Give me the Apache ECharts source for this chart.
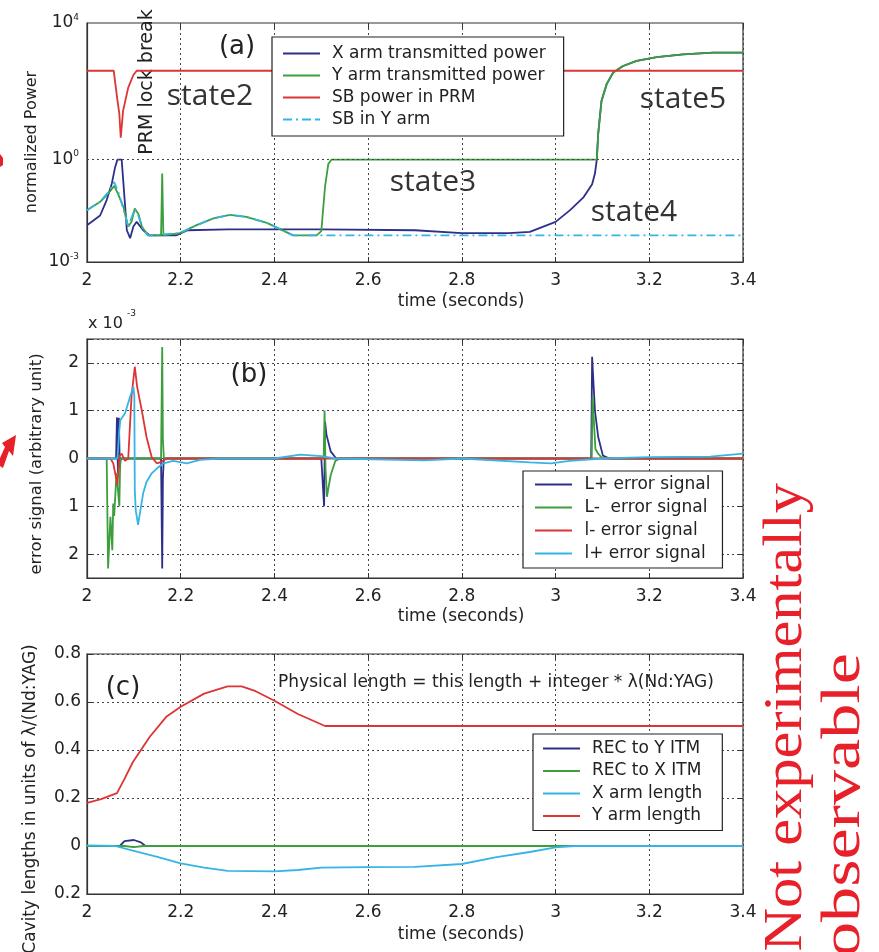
<!DOCTYPE html>
<html>
<head>
<meta charset="utf-8">
<script src="https://cdn.jsdelivr.net/npm/echarts@6/dist/echarts.min.js"></script>
<style>
html,body{margin:0;padding:0;background:#fff;}
#c{width:879px;height:952px;}
</style>
</head>
<body>
<div id="c"></div>
<script>
// ---------- Panel (a): normalized power (log scale) ----------
const xArmT = [2.0, 2.028, 2.042, 2.053, 2.06, 2.065, 2.074, 2.081, 2.085, 2.092, 2.099, 2.106, 2.12, 2.134, 2.19, 2.215, 2.3, 2.5, 2.7, 2.8, 2.9, 2.945, 3.0, 3.031, 3.06, 3.078, 3.084, 3.088, 3.091, 3.098, 3.109, 3.123, 3.144, 3.173, 3.216, 3.272, 3.336, 3.4];
const xArmP = [0.012, 0.023, 0.065, 0.2, 0.6, 1.0, 1.0, 0.05, 0.0085, 0.005, 0.011, 0.015, 0.0085, 0.006, 0.006, 0.0085, 0.009, 0.009, 0.0085, 0.007, 0.007, 0.0076, 0.015, 0.033, 0.08, 0.19, 0.39, 1.0, 5.8, 52, 162, 355, 550, 780, 1000, 1200, 1350, 1350];

const yArmT = [2.0, 2.028, 2.045, 2.058, 2.066, 2.078, 2.088, 2.095, 2.102, 2.11, 2.117, 2.13, 2.158, 2.1605, 2.163, 2.198, 2.234, 2.27, 2.305, 2.34, 2.384, 2.44, 2.49, 2.5, 2.508, 2.515, 2.522, 3.088, 3.091, 3.098, 3.109, 3.123, 3.144, 3.173, 3.216, 3.272, 3.336, 3.4];
const yArmP = [0.033, 0.058, 0.1, 0.17, 0.1, 0.04, 0.011, 0.015, 0.037, 0.025, 0.011, 0.006, 0.006, 0.39, 0.006, 0.007, 0.012, 0.019, 0.024, 0.021, 0.014, 0.006, 0.006, 0.008, 0.16, 0.75, 1.0, 1.0, 5.8, 52, 162, 355, 550, 780, 1000, 1200, 1350, 1350];

const sbPrmT = [2.0, 2.057, 2.065, 2.069, 2.072, 2.077, 2.088, 2.099, 2.106, 3.4];
const sbPrmP = [400, 400, 53, 22, 4.4, 27, 128, 300, 400, 400];

const sbYT = [2.0, 2.028, 2.045, 2.058, 2.066, 2.078, 2.088, 2.095, 2.102, 2.11, 2.117, 2.13, 2.198, 2.234, 2.27, 2.305, 2.34, 2.384, 2.44, 2.49, 3.4];
const sbYP = [0.033, 0.058, 0.11, 0.22, 0.12, 0.035, 0.01, 0.02, 0.035, 0.022, 0.011, 0.006, 0.007, 0.012, 0.019, 0.024, 0.021, 0.014, 0.006, 0.006, 0.006];

// ---------- Panel (b): error signals (x 10^-3) ----------
const lPlusT = [2.0, 2.062, 2.064, 2.066, 2.068, 2.07, 2.072, 2.158, 2.1605, 2.162, 2.164, 2.5, 2.506, 2.508, 2.511, 2.52, 2.532, 3.076, 3.078, 3.084, 3.091, 3.101, 3.115, 3.4];
const lPlusV = [0, 0, 0.86, -0.3, 0.85, -0.2, 0, 0, -2.3, -0.4, 0, 0, -1.0, 0.77, 0.5, 0.15, 0, 0, 2.13, 1.0, 0.45, 0.06, 0, 0];

const lMinusT = [2.0, 2.042, 2.045, 2.05, 2.054, 2.056, 2.058, 2.063, 2.069, 2.071, 2.158, 2.1605, 2.162, 2.164, 2.505, 2.507, 2.509, 2.512, 2.52, 2.53, 2.54, 3.077, 3.079, 3.085, 3.091, 3.1, 3.4];
const lMinusV = [0, 0, -2.3, -1.22, -1.92, -0.94, -1.2, -0.3, -1.0, 0, 0, 2.33, 0.4, 0, 0, 1.0, -0.2, -0.8, -0.35, -0.05, 0, 0, 1.29, 0.2, 0.1, 0, 0];

const sMinusT = [2.0, 2.05, 2.056, 2.065, 2.069, 2.074, 2.081, 2.088, 2.095, 2.102, 2.107, 2.117, 2.127, 2.138, 2.149, 2.159, 2.17, 3.4];
const sMinusV = [0, 0, -0.1, -0.55, 0.05, 0.1, -0.05, 0, 1.3, 1.92, 1.5, 1.0, 0.45, 0.03, -0.1, -0.07, 0, 0];

const sPlusT = [2.0, 2.065, 2.069, 2.071, 2.081, 2.092, 2.099, 2.101, 2.102, 2.104, 2.109, 2.112, 2.12, 2.127, 2.138, 2.149, 2.163, 2.184, 2.213, 2.241, 2.284, 2.4, 2.455, 2.5, 2.53, 2.72, 2.8, 2.945, 2.99, 3.03, 3.1, 3.2, 3.33, 3.4];
const sPlusV = [0, 0, 0.59, 0.8, 0.94, 1.29, 1.5, 1.3, -0.66, -1.08, -1.39, -1.2, -0.72, -0.49, -0.31, -0.21, -0.1, -0.05, -0.1, -0.03, 0, 0, 0.08, 0.05, 0, -0.04, 0, -0.08, -0.1, -0.05, 0, 0.03, 0.04, 0.1];

// ---------- Panel (c): cavity lengths ----------
const recYT = [2.0, 2.07, 2.08, 2.1, 2.115, 2.125, 3.4];
const recYV = [0, 0, 0.02, 0.025, 0.015, 0, 0];

const recXT = [2.0, 2.08, 2.1, 2.12, 3.4];
const recXV = [0, 0, -0.005, 0, 0];

const xLenT = [2.0, 2.06, 2.1, 2.15, 2.2, 2.25, 2.3, 2.4, 2.45, 2.5, 2.6, 2.7, 2.8, 2.874, 2.945, 3.0, 3.04, 3.4];
const xLenV = [0.003, 0, -0.02, -0.045, -0.072, -0.09, -0.104, -0.106, -0.1, -0.09, -0.088, -0.087, -0.075, -0.046, -0.025, -0.006, 0, 0];

const yLenT = [2.0, 2.03, 2.064, 2.08, 2.098, 2.134, 2.17, 2.2, 2.25, 2.3, 2.33, 2.36, 2.4, 2.45, 2.508, 3.4];
const yLenV = [0.18, 0.195, 0.22, 0.28, 0.35, 0.455, 0.54, 0.58, 0.635, 0.665, 0.665, 0.645, 0.605, 0.55, 0.5, 0.5];

// ---------- labels ----------
const namesA = ['X arm transmitted power', 'Y arm transmitted power', 'SB power in PRM', 'SB in Y arm'];
const namesB = ['L+ error signal', 'L-  error signal', 'l- error signal', 'l+ error signal'];
const namesC = ['REC to Y ITM', 'REC to X ITM', 'X arm length', 'Y arm length'];
const logTickExps = [-3, 0, 4];

const NAVY = '#2e2f88', GREEN = '#3c9e3c', RED = '#dd3434', CYAN = '#36b4e6';
const FONT = 'DejaVu Sans';
const AX = '#333';
const LINE_ICON = 'path://M0,0h37v2h-37z';
const DASHDOT_ICON = 'path://M0,0h9v2h-9zM13,0h2v2h-2zM19,0h9v2h-9zM32,0h5v2h-5z';

function zip(t, v) { return t.map((x, i) => [x, v[i]]); }
function legendData(names, dashIdx) {
  return names.map((n, i) => ({name: n, icon: i === dashIdx ? DASHDOT_ICON : LINE_ICON}));
}

const chart = echarts.init(document.getElementById('c'), null, {renderer: 'canvas'});

const gridLine = {show: true, lineStyle: {type: [2, 3], color: '#444', width: 1}};
function xBottom(g) {
  return {
    type: 'value', gridIndex: g, min: 2, max: 3.4, interval: 0.2, position: 'bottom',
    axisLine: {show: true, onZero: false, lineStyle: {color: AX, width: 1.2}},
    axisTick: {show: true, inside: true, length: 5, lineStyle: {color: AX}},
    axisLabel: {fontSize: 17, fontFamily: FONT, color: '#222', margin: 10},
    splitLine: gridLine
  };
}
function xTop(g) {
  return {
    type: 'value', gridIndex: g, min: 2, max: 3.4, interval: 0.2, position: 'top',
    axisLine: {show: false, onZero: false},
    axisTick: {show: true, inside: true, length: 5, lineStyle: {color: AX}},
    axisLabel: {show: false}, splitLine: {show: false}
  };
}
function legendCfg(names, dashIdx, left, top, padding, gap, w) {
  return {
    data: legendData(names, dashIdx), orient: 'vertical', left: left, top: top,
    padding: padding, itemGap: gap, itemWidth: w, itemHeight: 2,
    borderColor: '#222', borderWidth: 1.2, backgroundColor: '#fff',
    textStyle: {fontSize: 17, fontFamily: FONT, color: '#222', lineHeight: 17, padding: [0, 0, 0, 7]}
  };
}

const option = {
  animation: false,
  backgroundColor: '#fff',
  grid: [
    {left: 87, top: 23, width: 656, height: 239, show: true, borderColor: AX, borderWidth: 1.2, backgroundColor: 'transparent'},
    {left: 87, top: 339, width: 656, height: 239, show: true, borderColor: AX, borderWidth: 1.2, backgroundColor: 'transparent'},
    {left: 87, top: 654, width: 656, height: 240, show: true, borderColor: AX, borderWidth: 1.2, backgroundColor: 'transparent'}
  ],
  xAxis: [xBottom(0), xTop(0), xBottom(1), xTop(1), xBottom(2), xTop(2)],
  yAxis: [
    {
      type: 'log', logBase: 10, gridIndex: 0, min: 0.001, max: 10000,
      axisLine: {show: true, onZero: false, lineStyle: {color: AX, width: 1.2}},
      axisTick: {show: false}, splitLine: {show: false},
      axisLabel: {
        margin: 8,
        formatter: function (v) {
          const e = Math.round(Math.log10(v));
          return logTickExps.indexOf(e) >= 0 ? '{b|10}{s|' + e + '}' : '';
        },
        rich: {
          b: {fontSize: 17, fontFamily: FONT, color: '#222', lineHeight: 20},
          s: {fontSize: 9, fontFamily: FONT, color: '#222', verticalAlign: 'top', lineHeight: 20, padding: [0, 0, 10, 0]}
        }
      }
    },
    {
      type: 'value', gridIndex: 1, min: -2.5, max: 2.5, splitNumber: 5,
      axisLine: {show: true, onZero: false, lineStyle: {color: AX, width: 1.2}},
      axisTick: {show: true, inside: true, length: 5, lineStyle: {color: AX}},
      axisLabel: {fontSize: 17, fontFamily: FONT, color: '#222', margin: 8,
        formatter: function (v) { return Number.isInteger(v) ? String(Math.abs(v)) : ''; }},
      splitLine: gridLine
    },
    {
      type: 'value', gridIndex: 1, min: -2.5, max: 2.5, splitNumber: 5, position: 'right',
      axisLine: {show: false, onZero: false},
      axisTick: {show: true, inside: true, length: 5, lineStyle: {color: AX}},
      axisLabel: {show: false}, splitLine: {show: false}
    },
    {
      type: 'value', gridIndex: 2, min: -0.2, max: 0.8, interval: 0.2,
      axisLine: {show: true, onZero: false, lineStyle: {color: AX, width: 1.2}},
      axisTick: {show: true, inside: true, length: 5, lineStyle: {color: AX}},
      axisLabel: {fontSize: 17, fontFamily: FONT, color: '#222', margin: 6,
        formatter: function (v) { return String(Math.abs(Math.round(v * 10) / 10)); }},
      splitLine: gridLine
    },
    {
      type: 'value', gridIndex: 2, min: -0.2, max: 0.8, interval: 0.2, position: 'right',
      axisLine: {show: false, onZero: false},
      axisTick: {show: true, inside: true, length: 5, lineStyle: {color: AX}},
      axisLabel: {show: false}, splitLine: {show: false}
    }
  ],
  legend: [
    legendCfg(namesA, 3, 272, 37, [8, 18, 8, 11], 5, 37),
    legendCfg(namesB, -1, 523, 471, [5, 12, 6, 12], 6, 38),
    legendCfg(namesC, -1, 533, 734, [6, 20, 6, 10], 5.5, 37)
  ],
  series: [
    {name: namesA[0], type: 'line', xAxisIndex: 0, yAxisIndex: 0, symbol: 'none', data: zip(xArmT, xArmP),
      lineStyle: {color: NAVY, width: 1.8}, itemStyle: {color: NAVY},
      markLine: {silent: true, symbol: 'none', label: {show: false}, animation: false,
        lineStyle: {type: [2, 3], color: '#444', width: 1}, data: [{yAxis: 1}]}},
    {name: namesA[1], type: 'line', xAxisIndex: 0, yAxisIndex: 0, symbol: 'none', data: zip(yArmT, yArmP),
      lineStyle: {color: GREEN, width: 1.8}, itemStyle: {color: GREEN}},
    {name: namesA[2], type: 'line', xAxisIndex: 0, yAxisIndex: 0, symbol: 'none', data: zip(sbPrmT, sbPrmP),
      lineStyle: {color: RED, width: 1.8}, itemStyle: {color: RED}},
    {name: namesA[3], type: 'line', xAxisIndex: 0, yAxisIndex: 0, symbol: 'none', data: zip(sbYT, sbYP),
      lineStyle: {color: CYAN, width: 1.8, type: [9, 4, 2, 4]}, itemStyle: {color: CYAN}},

    {name: namesB[0], type: 'line', xAxisIndex: 2, yAxisIndex: 1, symbol: 'none', data: zip(lPlusT, lPlusV),
      lineStyle: {color: NAVY, width: 1.8}, itemStyle: {color: NAVY}},
    {name: namesB[1], type: 'line', xAxisIndex: 2, yAxisIndex: 1, symbol: 'none', data: zip(lMinusT, lMinusV),
      lineStyle: {color: GREEN, width: 1.8}, itemStyle: {color: GREEN}},
    {name: namesB[2], type: 'line', xAxisIndex: 2, yAxisIndex: 1, symbol: 'none', data: zip(sMinusT, sMinusV),
      lineStyle: {color: RED, width: 1.8}, itemStyle: {color: RED}},
    {name: namesB[3], type: 'line', xAxisIndex: 2, yAxisIndex: 1, symbol: 'none', data: zip(sPlusT, sPlusV),
      lineStyle: {color: CYAN, width: 1.8}, itemStyle: {color: CYAN}},

    {name: namesC[0], type: 'line', xAxisIndex: 4, yAxisIndex: 3, symbol: 'none', data: zip(recYT, recYV),
      lineStyle: {color: NAVY, width: 1.8}, itemStyle: {color: NAVY}},
    {name: namesC[1], type: 'line', xAxisIndex: 4, yAxisIndex: 3, symbol: 'none', data: zip(recXT, recXV),
      lineStyle: {color: GREEN, width: 1.8}, itemStyle: {color: GREEN}},
    {name: namesC[2], type: 'line', xAxisIndex: 4, yAxisIndex: 3, symbol: 'none', data: zip(xLenT, xLenV),
      lineStyle: {color: CYAN, width: 1.8}, itemStyle: {color: CYAN}},
    {name: namesC[3], type: 'line', xAxisIndex: 4, yAxisIndex: 3, symbol: 'none', data: zip(yLenT, yLenV),
      lineStyle: {color: RED, width: 1.8}, itemStyle: {color: RED}}
  ],
  graphic: [
    // axis names
    {type: 'text', x: 32, y: 142, rotation: Math.PI / 2,
      style: {text: 'normalized Power', fontSize: 16, fontFamily: FONT, fill: '#222', align: 'center', verticalAlign: 'middle'}},
    {type: 'text', x: 37, y: 464, rotation: Math.PI / 2,
      style: {text: 'error signal (arbitrary unit)', fontSize: 16.5, fontFamily: FONT, fill: '#222', align: 'center', verticalAlign: 'middle'}},
    {type: 'text', x: 31, y: 799, rotation: Math.PI / 2,
      style: {text: 'Cavity lengths in units of λ/(Nd:YAG)', fontSize: 17, fontFamily: FONT, fill: '#222', align: 'center', verticalAlign: 'middle'}},
    {type: 'text', x: 461, y: 302,
      style: {text: 'time (seconds)', fontSize: 17, fontFamily: FONT, fill: '#222', align: 'center', verticalAlign: 'middle'}},
    {type: 'text', x: 461, y: 617,
      style: {text: 'time (seconds)', fontSize: 17, fontFamily: FONT, fill: '#222', align: 'center', verticalAlign: 'middle'}},
    {type: 'text', x: 461, y: 935,
      style: {text: 'time (seconds)', fontSize: 17, fontFamily: FONT, fill: '#222', align: 'center', verticalAlign: 'middle'}},
    // x 10^-3
    {type: 'text', x: 88, y: 324,
      style: {text: 'x 10', fontSize: 16, fontFamily: FONT, fill: '#222', align: 'left', verticalAlign: 'middle'}},
    {type: 'text', x: 127, y: 314,
      style: {text: '-3', fontSize: 9, fontFamily: FONT, fill: '#222', align: 'left', verticalAlign: 'middle'}},
    // panel annotations
    {type: 'text', x: 237, y: 47,
      style: {text: '(a)', fontSize: 26, fontFamily: FONT, fill: '#222', align: 'center', verticalAlign: 'middle'}},
    {type: 'text', x: 249, y: 375,
      style: {text: '(b)', fontSize: 26, fontFamily: FONT, fill: '#222', align: 'center', verticalAlign: 'middle'}},
    {type: 'text', x: 123, y: 688,
      style: {text: '(c)', fontSize: 26, fontFamily: FONT, fill: '#222', align: 'center', verticalAlign: 'middle'}},
    {type: 'text', x: 147, y: 82, rotation: Math.PI / 2,
      style: {text: 'PRM lock break', fontSize: 19, fontFamily: FONT, fill: '#222', align: 'center', verticalAlign: 'middle'}},
    {type: 'text', x: 210, y: 96,
      style: {text: 'state2', fontSize: 30, fontFamily: 'Open Sans', fill: '#333', align: 'center', verticalAlign: 'middle'}},
    {type: 'text', x: 433, y: 182,
      style: {text: 'state3', fontSize: 30, fontFamily: 'Open Sans', fill: '#333', align: 'center', verticalAlign: 'middle'}},
    {type: 'text', x: 634, y: 212,
      style: {text: 'state4', fontSize: 30, fontFamily: 'Open Sans', fill: '#333', align: 'center', verticalAlign: 'middle'}},
    {type: 'text', x: 683, y: 99,
      style: {text: 'state5', fontSize: 30, fontFamily: 'Open Sans', fill: '#333', align: 'center', verticalAlign: 'middle'}},
    {type: 'text', x: 496, y: 683,
      style: {text: 'Physical length = this length + integer * λ(Nd:YAG)', fontSize: 17, fontFamily: FONT, fill: '#222', align: 'center', verticalAlign: 'middle'}},
    // red side annotation
    {type: 'text', x: 787, y: 483, rotation: Math.PI / 2, scaleX: 1.12,
      style: {text: 'Not experimentally', fontSize: 54, fontFamily: 'Liberation Serif', fill: '#e8202a', align: 'right', verticalAlign: 'middle'}},
    {type: 'text', x: 845, y: 653, rotation: Math.PI / 2, scaleX: 1.3,
      style: {text: 'observable', fontSize: 54, fontFamily: 'Liberation Serif', fill: '#e8202a', align: 'right', verticalAlign: 'middle'}},
    // red arrow fragments at left edge
    {type: 'polygon', shape: {points: [[16, 435], [13, 456], [9, 451], [3, 468], [0, 466], [0, 458], [5, 447], [2, 443]]},
      style: {fill: '#e8202a'}},
    {type: 'polygon', shape: {points: [[0, 154], [3, 158], [3, 165], [0, 167]]}, style: {fill: '#e8202a'}}
  ]
};
chart.setOption(option);
</script>
</body>
</html>
